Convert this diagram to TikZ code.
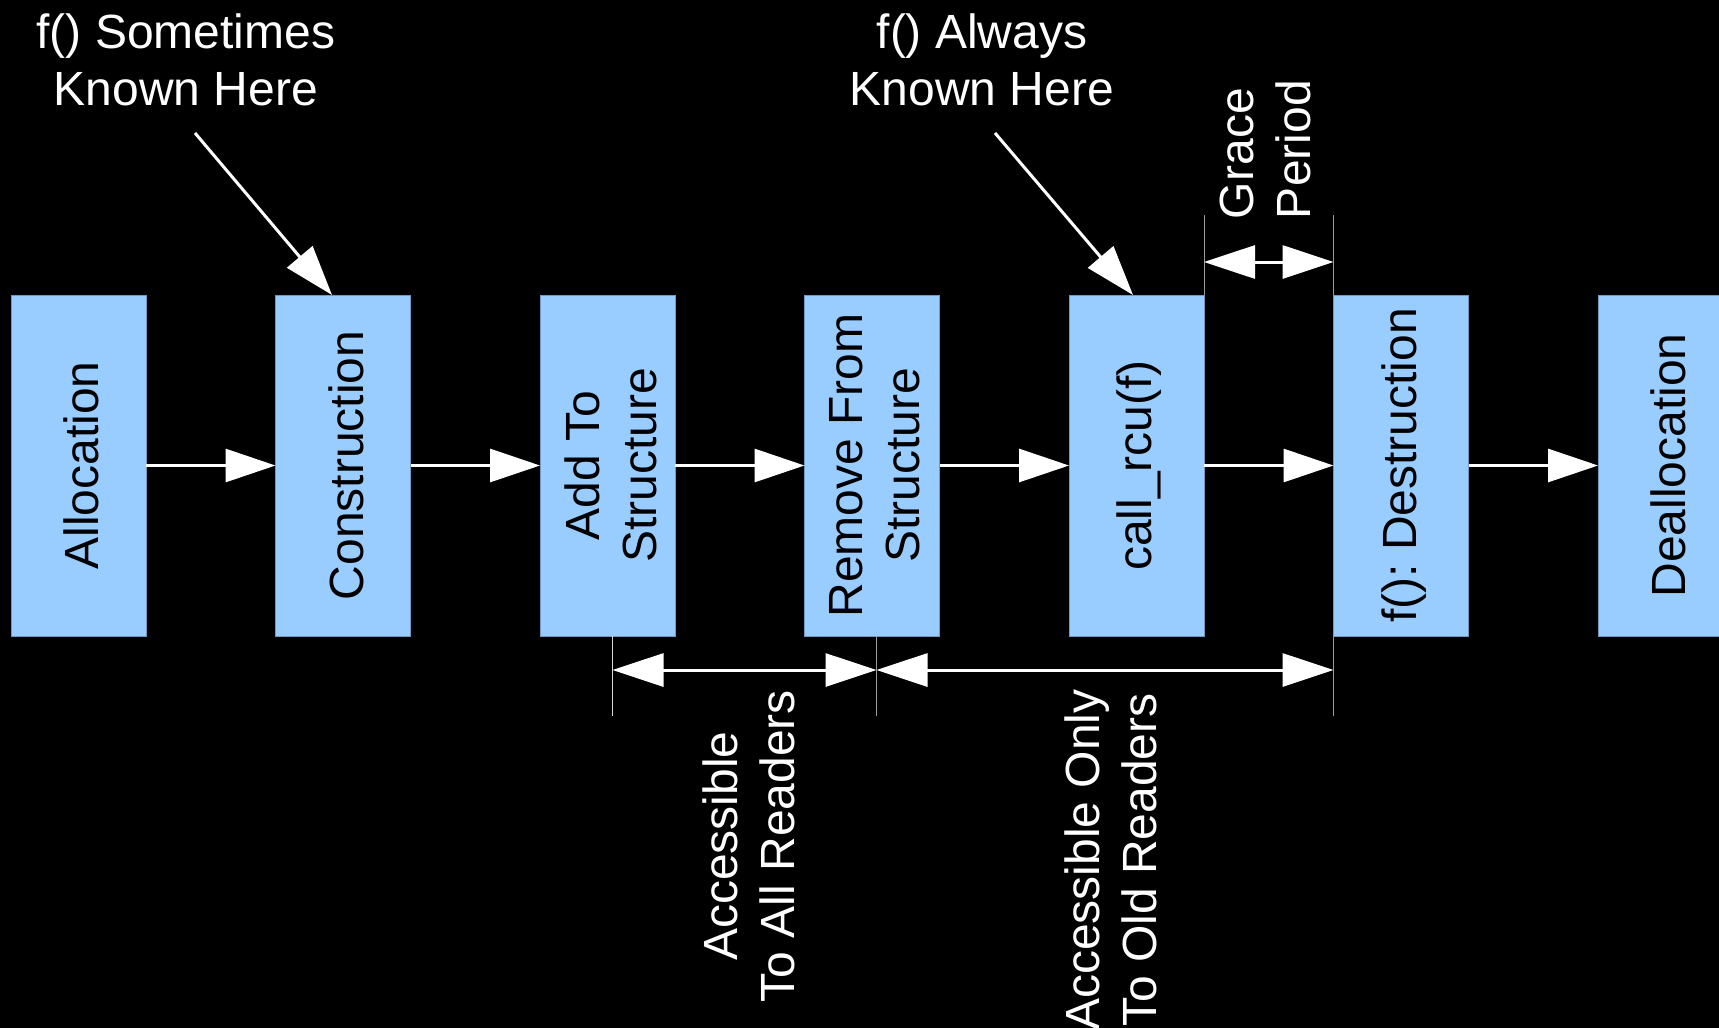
\documentclass[tikz,border=0pt]{standalone}
\usepackage{fontspec}
\setmainfont{Liberation Sans}
\frenchspacing
\usetikzlibrary{arrows.meta,calc}
\definecolor{sky}{HTML}{99CCFF}
\definecolor{skyedge}{HTML}{7298C0}
\definecolor{tickgray}{HTML}{9A9A9A}
\begin{document}
\begin{tikzpicture}[x=0.5pt,y=-0.5pt,
  txt/.style={font=\fontsize{24}{28.5}\selectfont, align=center, inner sep=0pt, outer sep=0pt},
  caption/.style={txt, text=white},
  vcaption/.style={caption, rotate=90},
  blk/.style={fill=sky, draw=skyedge, line width=0.4pt, minimum width=67.5pt,
    minimum height=170.5pt, inner sep=0pt, outer sep=0pt},
  blklabel/.style={xshift=1.5pt, txt, text=black, rotate=90},
  flowarrow/.style={draw=white, line width=1.5pt, -{Triangle[length=25pt,width=16.5pt]}},
  dimarrow/.style={draw=white, line width=1.5pt,
    {Triangle[length=25.5pt,width=16.5pt]}-{Triangle[length=25.5pt,width=16.5pt]}},
  extline/.style={draw=tickgray, line width=0.5pt}]

% canvas
\useasboundingbox (0,0) rectangle (1719,1028);
\clip (0,0) rectangle (1719,1028);
\fill[black] (0,0) rectangle (1719,1028);

% life-cycle stages
\node[blk, label={[blklabel]center:Allocation}] (b1) at (78.5,465.5) {};
\node[blk, label={[blklabel]center:Construction}] (b2) at (343,465.5) {};
\node[blk, label={[blklabel]center:{Add To\\Structure}}] (b3) at (607.5,465.5) {};
\node[blk, label={[blklabel]center:{Remove From\\Structure}}] (b4) at (872,465.5) {};
\node[blk, label={[blklabel]center:{call\_rcu(f)}}] (b5) at (1136.5,465.5) {};
\node[blk, label={[blklabel]center:{f(): Destruction}}] (b6) at (1401,465.5) {};
\node[blk, label={[blklabel]center:Deallocation}] (b7) at (1665.5,465.5) {};

% flow between stages
\draw[flowarrow] (b1) -- (b2);
\draw[flowarrow] (b2) -- (b3);
\draw[flowarrow] (b3) -- (b4);
\draw[flowarrow] (b4) -- (b5);
\draw[flowarrow] (b5) -- (b6);
\draw[flowarrow] (b6) -- (b7);

% callouts above
\node[caption] (k1) at (186,60) {f() Sometimes\\Known Here};
\node[caption] (k2) at (982,60) {f() Always\\Known Here};
\coordinate (k1tail) at (195,133);
\coordinate (k2tail) at (995,133);
\draw[flowarrow] (k1tail) -- ($(b2.north)+(-11,0)$);
\draw[flowarrow] (k2tail) -- ($(b5.north)+(-3.5,0)$);

% grace period
\coordinate (g1) at ($(b5.north east)+(0,-80)$);
\coordinate (g2) at ($(b6.north west)+(0,-80)$);
\draw[extline] (b5.north east) -- (g1);
\draw[extline] (b6.north west) -- (g2);
\draw[dimarrow] ($(b5.north east)+(0,-33)$) -- ($(b6.north west)+(0,-33)$);
\node[vcaption, align=left, anchor=west] (gp) at (1265,219) {Grace\\Period};

% reader visibility spans
\coordinate (r1) at ($(b3.south)+(5,0)$);
\coordinate (r2) at ($(b4.south)+(4.5,0)$);
\coordinate (r3) at (b6.south west);
\draw[extline, draw=white!85!black] (r1) -- ++(0,80);
\draw[extline] (r2) -- ++(0,80);
\draw[extline] (r3) -- ++(0,80);
\draw[dimarrow] ($(r1)+(0,34)$) -- ($(r2)+(0,34)$);
\draw[dimarrow] ($(r2)+(0,34)$) -- ($(r3)+(0,34)$);
\node[vcaption] (acc1) at (749,846) {Accessible\\To All Readers};
\node[vcaption] (acc2) at (1111,860) {Accessible Only\\To Old Readers};
\end{tikzpicture}
\end{document}
